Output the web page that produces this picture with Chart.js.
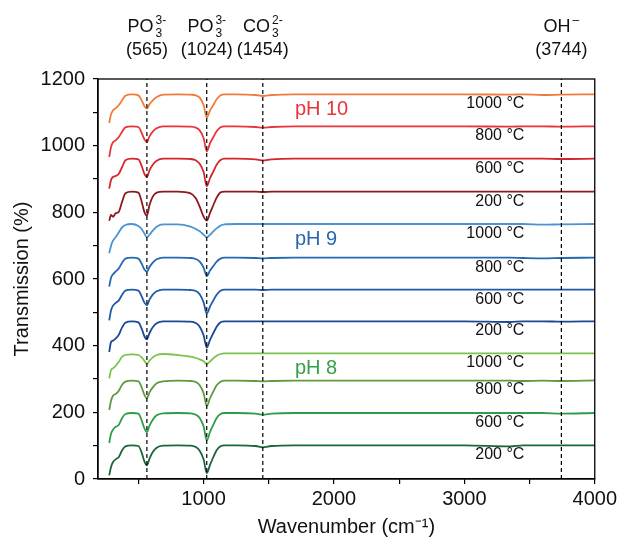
<!DOCTYPE html>
<html>
<head>
<meta charset="utf-8">
<script src="https://cdn.jsdelivr.net/npm/chart.js@4.4.1/dist/chart.umd.min.js"></script>
<style>
  html, body { margin: 0; padding: 0; background: #fff; }
  #wrap { width: 620px; height: 541px; }
</style>
</head>
<body>
<div id="wrap"><canvas id="ftir" width="620" height="541"></canvas></div>
<script>
// -------- datos -------------------------------
// números de onda (cm-1) donde se leyó cada espectro
const waveNumbers = [276, 290, 305, 325, 350, 375, 400, 450, 500, 525,
  545, 565, 585, 610, 640, 690, 800, 900, 940, 970,
  1000, 1024, 1050, 1075, 1100, 1130, 1160, 1250, 1400, 1454,
  1520, 1700, 2000, 2500, 3000, 3350, 3450, 3600, 3744, 4000];

// pH 10
const ph10_1000 = [1068, 1094, 1106, 1112, 1122, 1136, 1150, 1154, 1151, 1136,
  1119, 1111, 1124, 1136, 1146, 1153, 1154, 1153, 1151, 1144,
  1122, 1084, 1106, 1122, 1139, 1151, 1154, 1154, 1152, 1149,
  1152, 1154, 1154, 1154, 1154, 1153, 1154, 1152, 1153, 1154];
const ph10_800 = [966, 996, 1010, 1016, 1026, 1042, 1055, 1058, 1056, 1038,
  1020, 1011, 1028, 1042, 1052, 1058, 1058, 1057, 1054, 1046,
  1023, 983, 1008, 1026, 1043, 1055, 1058, 1058, 1056, 1054,
  1056, 1058, 1058, 1058, 1058, 1057, 1058, 1058, 1057, 1058];
const ph10_600 = [871, 897, 906, 909, 916, 936, 956, 961, 959, 939,
  916, 906, 926, 943, 955, 961, 961, 960, 956, 946,
  921, 878, 903, 923, 943, 957, 961, 961, 959, 956,
  959, 961, 961, 961, 961, 961, 961, 961, 960, 961];
const ph10_200 = [775, 792, 787, 797, 802, 832, 857, 862, 859, 832,
  802, 790, 822, 847, 859, 862, 862, 857, 842, 817,
  787, 775, 799, 822, 844, 860, 862, 862, 862, 861,
  862, 862, 862, 862, 862, 862, 862, 862, 862, 862];
// pH 9
const ph9_1000 = [677, 700, 715, 725, 740, 755, 762, 765, 759, 750,
  737, 725, 733, 745, 757, 764, 764, 757, 750, 743,
  733, 725, 733, 743, 752, 760, 764, 765, 765, 765,
  765, 765, 765, 765, 765, 765, 765, 763, 764, 765];
const ph9_800 = [577, 604, 614, 622, 632, 649, 661, 664, 661, 646,
  629, 622, 636, 649, 659, 664, 664, 663, 660, 652,
  634, 609, 626, 639, 652, 661, 664, 664, 663, 662,
  663, 664, 664, 664, 664, 664, 663, 662, 663, 664];
const ph9_600 = [476, 506, 520, 528, 536, 553, 565, 568, 565, 548,
  530, 521, 538, 553, 563, 568, 568, 567, 564, 554,
  530, 496, 518, 536, 553, 565, 568, 568, 568, 567,
  568, 568, 568, 568, 568, 568, 568, 568, 568, 568];
const ph9_200 = [381, 411, 415, 421, 433, 455, 469, 473, 470, 451,
  429, 419, 438, 455, 467, 473, 473, 472, 468, 457,
  431, 394, 418, 438, 457, 470, 473, 473, 473, 473,
  473, 473, 473, 473, 473, 471, 473, 473, 472, 473];
// pH 8
const ph8_1000 = [302, 327, 332, 339, 352, 367, 372, 374, 372, 365,
  355, 345, 355, 365, 372, 375, 372, 367, 363, 359,
  353, 345, 353, 362, 370, 375, 377, 377, 377, 377,
  377, 377, 377, 377, 377, 377, 377, 377, 377, 377];
const ph8_800 = [207, 235, 250, 255, 265, 283, 292, 295, 293, 275,
  253, 242, 260, 275, 287, 293, 295, 294, 291, 281,
  257, 219, 243, 263, 281, 292, 295, 295, 294, 293,
  294, 295, 295, 295, 295, 295, 294, 295, 294, 296];
const ph8_600 = [108, 136, 148, 156, 163, 183, 195, 198, 196, 176,
  153, 141, 160, 178, 191, 197, 198, 197, 193, 183,
  158, 116, 142, 163, 183, 195, 198, 198, 196, 193,
  196, 198, 198, 198, 198, 198, 198, 198, 196, 198];
const ph8_200 = [11, 36, 51, 59, 66, 86, 98, 101, 99, 79,
  54, 41, 61, 81, 94, 100, 101, 100, 96, 85,
  59, 18, 43, 66, 86, 98, 101, 101, 99, 95,
  99, 101, 101, 101, 101, 98, 101, 101, 101, 101];

const spectra = [ph10_1000, ph10_800, ph10_600, ph10_200,
  ph9_1000, ph9_800, ph9_600, ph9_200,
  ph8_1000, ph8_800, ph8_600, ph8_200];
const tempLabels = ["1000 °C", "800 °C", "600 °C", "200 °C",
  "1000 °C", "800 °C", "600 °C", "200 °C",
  "1000 °C", "800 °C", "600 °C", "200 °C"];
const spectraColors = ["#f07c3a", "#e8353b", "#d3262c", "#8c1a1d",
  "#4b93d3", "#2468b2", "#1f5ba6", "#1a4893",
  "#7cc24e", "#5f9a3f", "#2f9d47", "#18663a"];

const phLabels = ["pH 10", "pH 9", "pH 8"];
const phColors = ["#e8353b", "#2a66b0", "#33a04a"];

// bandas marcadas con línea discontinua
const bandWave = [565, 1024, 1454, 3744];
const bandIon  = [["PO", "3", "3-"], ["PO", "3", "3-"], ["CO", "3", "2-"], ["OH", "", "\u2013"]];

const xTickValues = [500, 1000, 1500, 2000, 2500, 3000, 3500, 4000];

const FONT = '"Liberation Sans", Arial, Helvetica, sans-serif';

// -------- datasets ----------
const markerSets = bandWave.map((w) => ({
  data: [{ x: w, y: 0 }, { x: w, y: 1200 }],
  borderColor: "#000",
  borderWidth: 1.2,
  borderDash: [4, 3],
  pointRadius: 0,
  order: 0
}));

const spectraSets = spectra.map((vals, i) => ({
  label: tempLabels[i],
  data: vals.map((v, k) => ({ x: waveNumbers[k], y: v })),
  borderColor: spectraColors[i],
  borderWidth: 1.8,
  pointRadius: 0,
  cubicInterpolationMode: "monotone",
  order: 1
}));

// -------- textos sobre el gráfico ----------
function drawIon(ctx, cx, base, sub, sup) {
  ctx.font = `18px ${FONT}`;
  const wb = ctx.measureText(base).width;
  ctx.font = `12px ${FONT}`;
  const ws = Math.max(ctx.measureText(sub).width, ctx.measureText(sup).width);
  const left = cx - (wb + ws + 2) / 2;
  ctx.textAlign = "left";
  ctx.font = `18px ${FONT}`;
  ctx.fillText(base, left, 32);
  ctx.font = `12px ${FONT}`;
  if (sub) ctx.fillText(sub, left + wb + 2, 37);
  ctx.fillText(sup, left + wb + 2, 24);
}

const annotations = {
  id: "annotations",
  afterDatasetsDraw(chart) {
    const { ctx, chartArea: a, scales: { x, y } } = chart;
    ctx.save();
    // marco
    ctx.strokeStyle = "#000";
    ctx.lineWidth = 1.3;
    ctx.strokeRect(a.left, a.top, a.right - a.left, a.bottom - a.top);

    ctx.fillStyle = "#111";
    ctx.textBaseline = "alphabetic";
    bandWave.forEach((w, i) => {
      const px = x.getPixelForValue(w);
      const [base, sub, sup] = bandIon[i];
      drawIon(ctx, px, base, sub, sup);
      ctx.font = `18px ${FONT}`;
      ctx.textAlign = "center";
      ctx.fillText(`(${w})`, px, 55);
    });

    // temperaturas
    ctx.font = `16px ${FONT}`;
    ctx.textAlign = "right";
    ctx.textBaseline = "middle";
    spectra.forEach((vals, i) => {
      const level = vals[vals.length - 1];
      ctx.fillText(tempLabels[i], x.getPixelForValue(3460), y.getPixelForValue(level - 29));
    });

    // grupos de pH
    ctx.font = `20px ${FONT}`;
    ctx.textAlign = "left";
    phLabels.forEach((t, g) => {
      const level = spectra[g * 4][spectra[g * 4].length - 1];
      ctx.fillStyle = phColors[g];
      ctx.fillText(t, x.getPixelForValue(1700), y.getPixelForValue(level - 45));
    });
    ctx.restore();
  }
};

// -------- gráfico ----------
new Chart(document.getElementById("ftir"), {
  type: "line",
  data: { datasets: [...markerSets, ...spectraSets] },
  options: {
    responsive: false,
    animation: false,
    parsing: true,
    layout: { padding: { top: 79, right: 24, left: 0, bottom: 0 } },
    plugins: { legend: { display: false }, tooltip: { enabled: false } },
    scales: {
      x: {
        type: "linear",
        min: 190,
        max: 4000,
        afterBuildTicks: (s) => { s.ticks = xTickValues.map((v) => ({ value: v })); },
        afterFit: (s) => { s.height = 62; },
        grid: { drawOnChartArea: false, drawTicks: true, tickLength: 5, color: "#000", lineWidth: 1.2 },
        border: { color: "#000", width: 1.3 },
        ticks: {
          color: "#111", font: { family: FONT, size: 20 }, padding: 3,
          maxRotation: 0, autoSkip: false,
          callback: (v) => (v % 1000 === 0 ? v : "")
        },
        title: {
          display: true, text: "Wavenumber (cm\u207B\u00B9)", color: "#111",
          font: { family: FONT, size: 20 }, padding: { top: 0, bottom: 2 }
        }
      },
      y: {
        min: 0,
        max: 1200,
        afterFit: (s) => { s.width = 98; },
        grid: { drawOnChartArea: false, drawTicks: true, tickLength: 5, color: "#000", lineWidth: 1.2 },
        border: { color: "#000", width: 1.3 },
        ticks: {
          stepSize: 100, color: "#111", font: { family: FONT, size: 20 }, padding: 8,
          autoSkip: false,
          callback: (v) => (v % 200 === 0 ? v : "")
        },
        title: {
          display: true, text: "Transmission (%)", color: "#111",
          font: { family: FONT, size: 20 }, padding: { top: 10, bottom: 0 }
        }
      }
    }
  },
  plugins: [annotations]
});
</script>
</body>
</html>
